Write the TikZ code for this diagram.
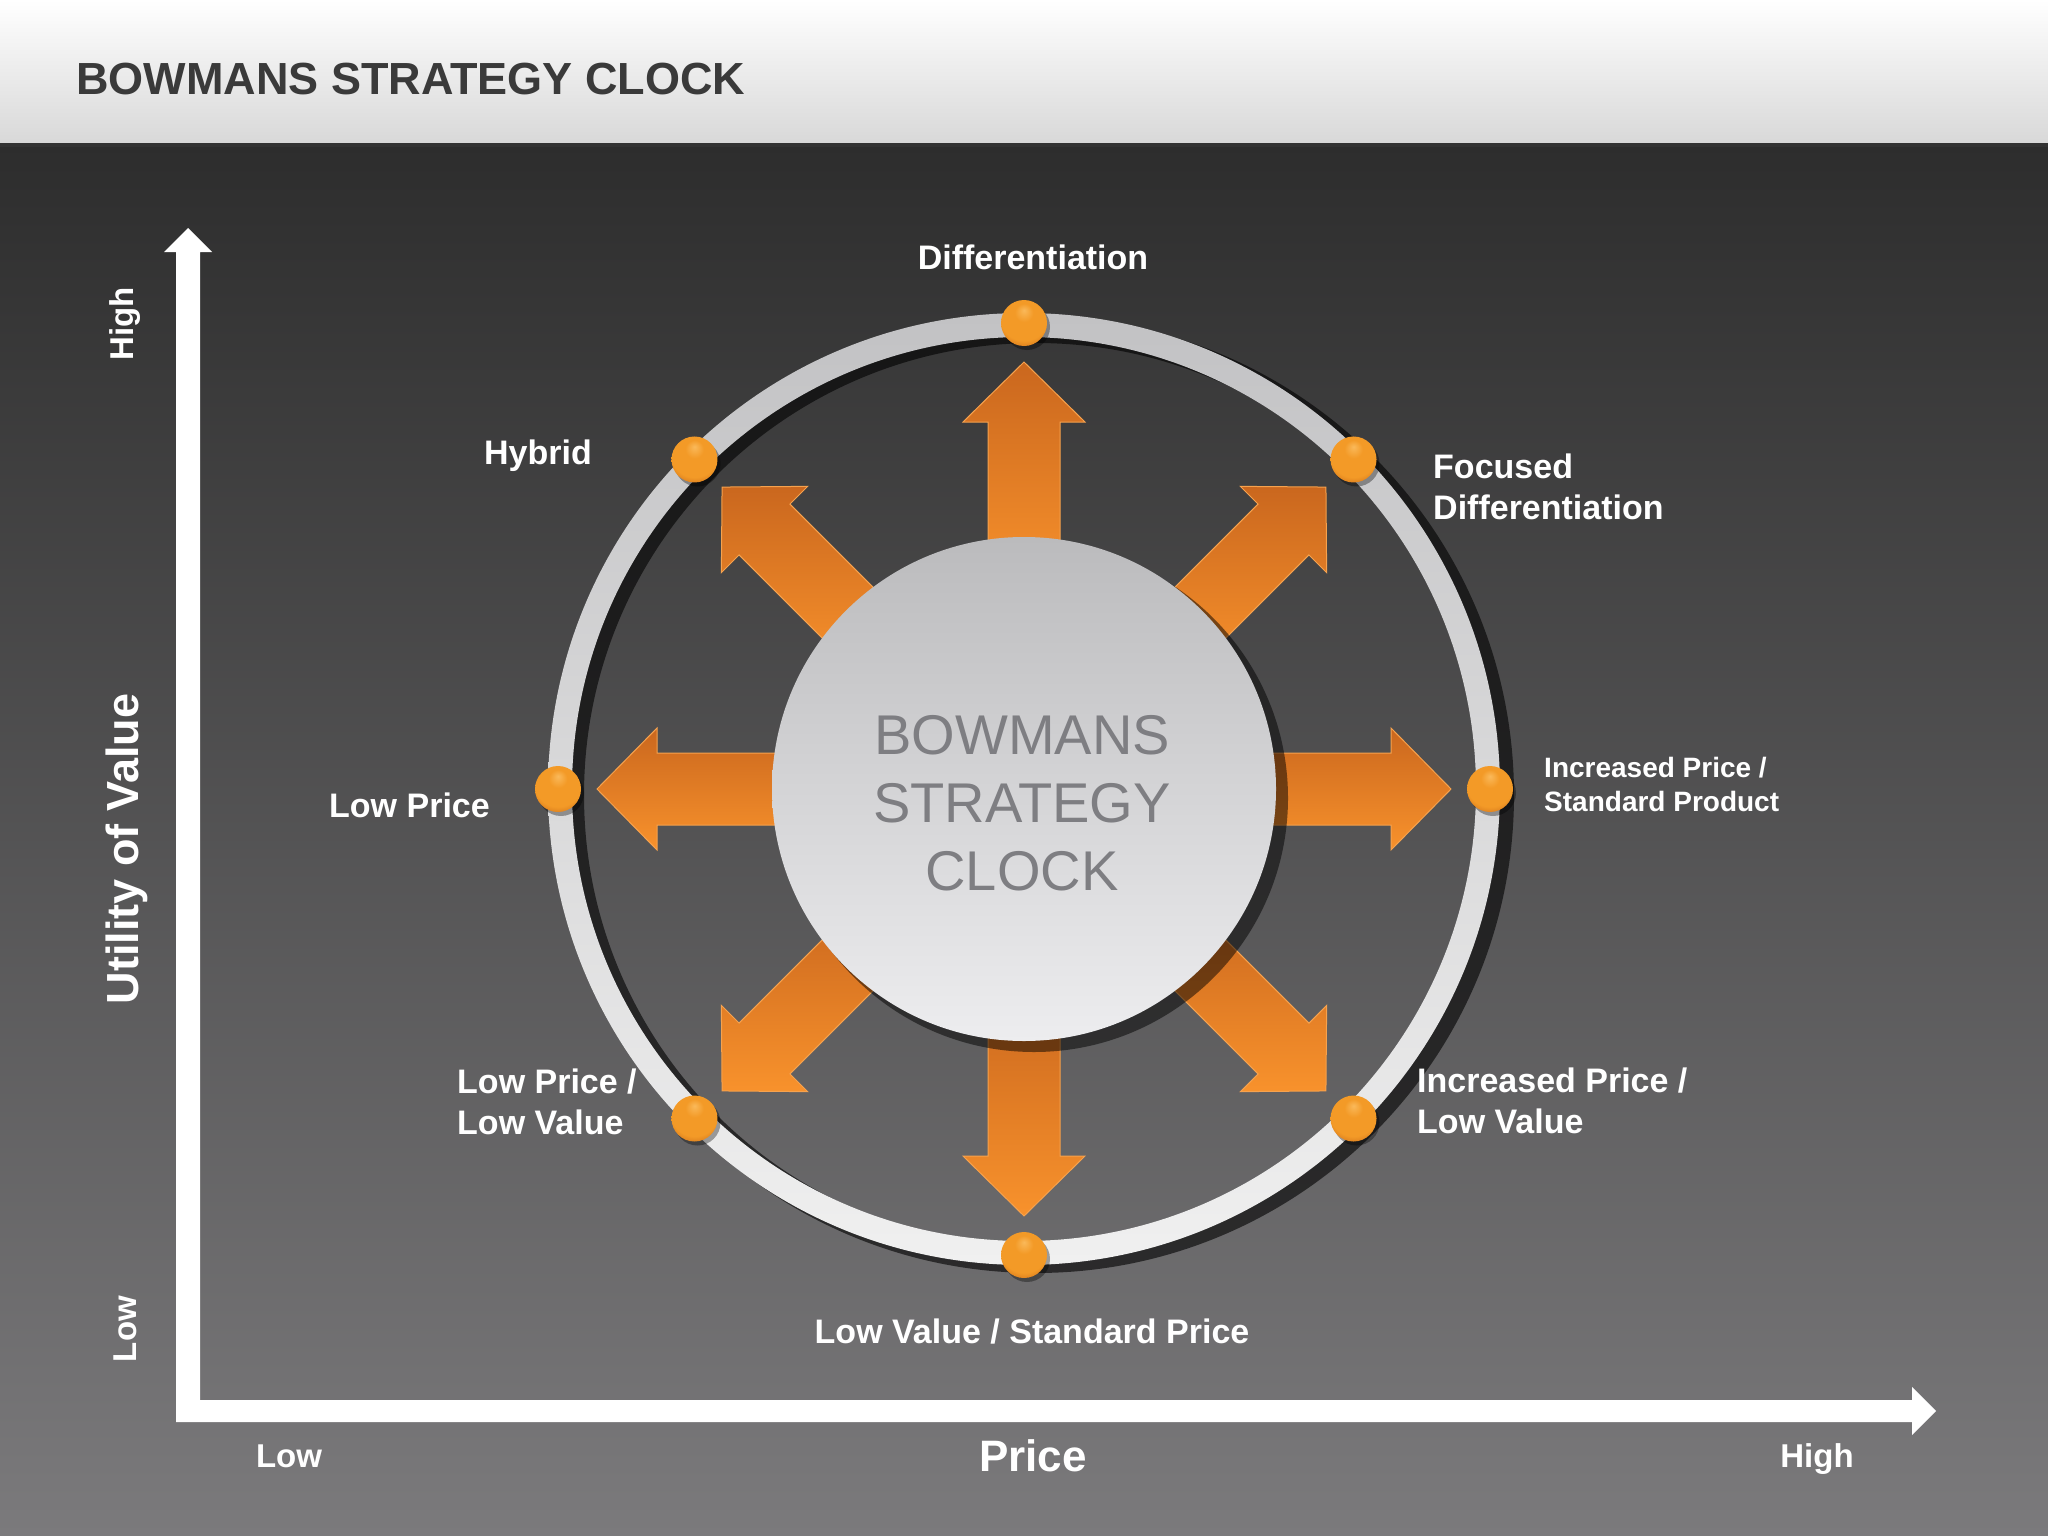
\documentclass[tikz,border=0pt]{standalone}
\usepackage{fontspec}
\setmainfont{Liberation Sans}
\usetikzlibrary{calc,shadings}
\definecolor{hdrbot}{HTML}{D8D8D8}
\definecolor{bgtop}{HTML}{2D2D2D}
\definecolor{bgbot}{HTML}{7B7A7C}
\definecolor{ringtop}{HTML}{C2C2C4}
\definecolor{ringbot}{HTML}{F0F0F0}
\definecolor{arrtop}{HTML}{CA671E}
\definecolor{arrbot}{HTML}{F8922C}
\definecolor{arredge}{HTML}{F6A24E}
\definecolor{dotlight}{HTML}{FAB95A}
\definecolor{dotmid}{HTML}{F39A27}
\definecolor{dotdark}{HTML}{D2731A}
\definecolor{titlecol}{HTML}{3A3A3A}
\definecolor{hubtop}{HTML}{BBBBBD}
\definecolor{hubbot}{HTML}{EDEDEF}
\definecolor{hubtext}{HTML}{7E7E82}
\pgfdeclareradialshading{dotshade}{\pgfpoint{0bp}{14bp}}{color(0bp)=(dotlight); color(10bp)=(dotmid); color(26bp)=(dotmid); color(34bp)=(dotdark); color(50bp)=(dotdark)}
\tikzset{
  lbl/.style={text=white, inner sep=0pt, font=\bfseries\fontsize{34}{41}\selectfont},
  lblsmall/.style={text=white, inner sep=0pt, font=\bfseries\fontsize{28}{34}\selectfont},
  axlbl/.style={text=white, inner sep=0pt, font=\bfseries\fontsize{33}{40}\selectfont},
  axtitle/.style={text=white, inner sep=0pt, font=\bfseries\fontsize{45}{52}\selectfont},
  dotball/.style={circle, minimum size=46pt, inner sep=0pt, shading=dotshade},
  shadowfill/.style={fill=black, opacity=0.55},
  arrowfill/.style={top color=arrtop, bottom color=arrbot, draw=arredge, line width=1pt},
}
\begin{document}
\begin{tikzpicture}[x=1pt,y=-1pt]
\useasboundingbox (0,0) rectangle (2048,1536);
% background
\shade[top color=white, bottom color=hdrbot] (0,0) rectangle (2048,144);
\shade[top color=bgtop, bottom color=bgbot] (0,144) rectangle (2048,1536);
\fill[black!80] (0,143) rectangle (2048,147);
\node[anchor=west, inner sep=0pt, text=titlecol, font=\bfseries\fontsize{45}{52}\selectfont] (title) at (76,79) {BOWMANS STRATEGY CLOCK};

\coordinate (c) at (1024,789);
% ring shadow and ring
\fill[black, opacity=0.6, even odd rule] ($(c)+(12,6)$) circle (478) circle (452);
\shade[top color=ringtop, bottom color=ringbot, even odd rule] (c) circle (476) circle (452);

% arrows
\foreach \a in {0,45,...,315} {
  \begin{scope}[shift={(12,10)}]
  \fill[shadowfill] ($(c)+(\a:200)+(\a+90:36)$) -- ($(c)+(\a:367)+(\a+90:36)$) -- ($(c)+(\a:367)+(\a+90:61)$) -- ($(c)+(\a:427)$) -- ($(c)+(\a:367)+(\a-90:61)$) -- ($(c)+(\a:367)+(\a-90:36)$) -- ($(c)+(\a:200)+(\a-90:36)$) -- cycle;
  \end{scope}
}
\foreach \a in {0,45,...,315} {
  \path[arrowfill] ($(c)+(\a:200)+(\a+90:36)$) -- ($(c)+(\a:367)+(\a+90:36)$) -- ($(c)+(\a:367)+(\a+90:61)$) -- ($(c)+(\a:427)$) -- ($(c)+(\a:367)+(\a-90:61)$) -- ($(c)+(\a:367)+(\a-90:36)$) -- ($(c)+(\a:200)+(\a-90:36)$) -- cycle;
}

% hub
\fill[black, opacity=0.5] ($(c)+(10,9)$) circle (254);
\node[circle, minimum size=504pt, inner sep=0pt, top color=hubtop, bottom color=hubbot] (hub) at (c) {};
\node[align=center, inner sep=0pt, text=hubtext, font=\fontsize{56}{68}\selectfont] (hubtxt) at (1022,803) {BOWMANS\\STRATEGY\\CLOCK};

% dots
\foreach \a/\n in {90/d1,45/d2,0/d3,-45/d4,-90/d5,-135/d6,180/d7,135/d8} {
  \fill[black, opacity=0.35] ($(c)+(\a:466)+(3,4)$) circle (23);
  \node[dotball] (\n) at ($(c)+(\a:466)$) {};
}

% labels
\node[lbl] (ldiff) at (1033,257) {Differentiation};
\node[lbl, anchor=east] (lhyb) at (592,456) {Hybrid};
\node[lbl, anchor=west, align=left] (lfoc) at (1433,487) {Focused\\Differentiation};
\node[lblsmall, anchor=west, align=left] (lincstd) at (1544,784) {Increased Price /\\Standard Product};
\node[lbl, anchor=east] (llow) at (490,805) {Low Price};
\node[lbl, anchor=west, align=left] (llowlow) at (457,1102) {Low Price /\\Low Value};
\node[lbl, anchor=west, align=left] (linclow) at (1417,1101) {Increased Price /\\Low Value};
\node[lbl] (llvsp) at (1032,1332) {Low Value / Standard Price};

% axes
\fill[white] (176,1422) -- (176,252) -- (164,252) -- (188,228) -- (212,252) -- (200,252) -- (200,1400) -- (1912,1400) -- (1912,1387) -- (1936,1411) -- (1912,1435) -- (1912,1422) -- cycle;
\node[axlbl] (xlow) at (289,1456) {Low};
\node[axtitle, font=\bfseries\fontsize{44}{50}\selectfont] (xtitle) at (1033,1456) {Price};
\node[axlbl, anchor=base] (xhigh) at (1817,1467) {High};
\node[axlbl, rotate=90] (yhigh) at (125,324) {High};
\node[axlbl, rotate=90] (ylow) at (125,1329) {Low};
\node[axtitle, rotate=90] (ytitle) at (127,849) {Utility of Value};
\end{tikzpicture}
\end{document}
